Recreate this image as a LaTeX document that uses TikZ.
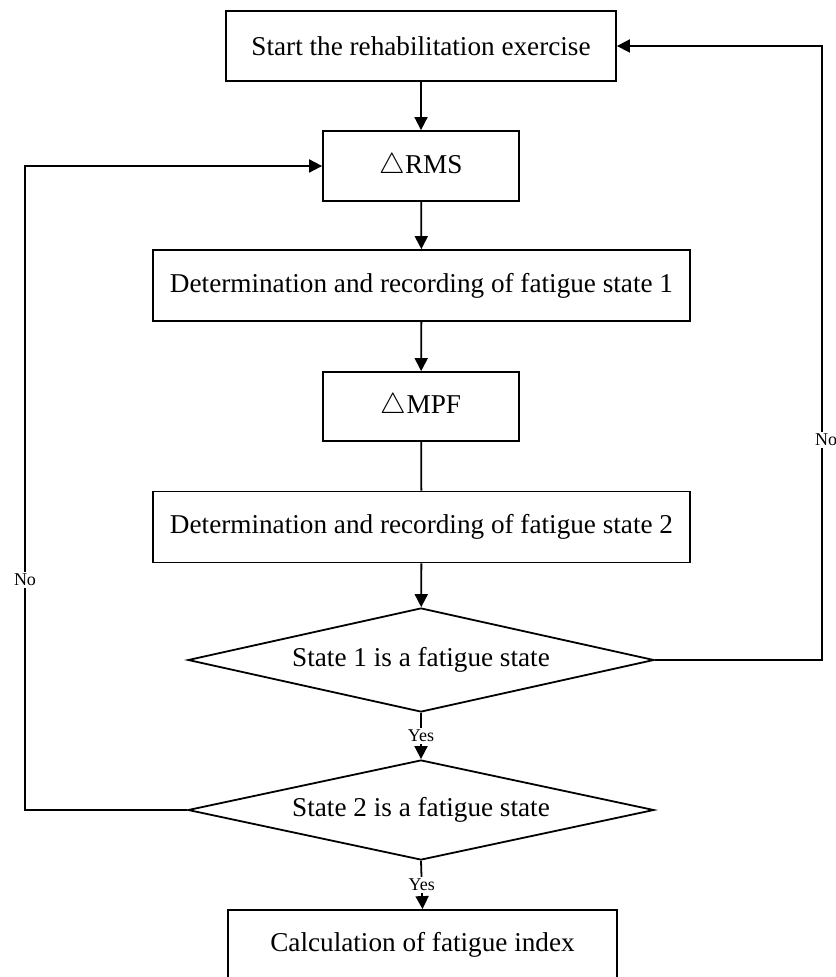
\documentclass[tikz,border=0pt]{standalone}
\usepackage{fontspec}
\setmainfont{Liberation Serif}
\usetikzlibrary{shapes.geometric,arrows.meta}
\begin{document}
\begin{tikzpicture}[x=0.5pt,y=-0.5pt,
  every path/.style={line width=0.9pt},
  box/.style={draw,line width=0.9pt,rectangle,inner sep=0pt,font=\fontsize{13.6}{16}\selectfont},
  dia/.style={draw,line width=0.9pt,diamond,aspect=4.5,inner sep=0pt,font=\fontsize{13.6}{16}\selectfont},
  lbl/.style={font=\fontsize{9}{10}\selectfont,fill=white,inner sep=1pt},
  arr/.style={-{Triangle[length=6.5pt,width=6.5pt]}}]
\useasboundingbox (0,0) rectangle (835,977);
\node[box,minimum width=195pt,minimum height=35pt] (b1) at (421,46) {Start the rehabilitation exercise};
\node[box,minimum width=98pt,minimum height=35pt] (rms) at (421,166) {$\triangle$RMS};
\node[box,minimum width=268.5pt,minimum height=35.5pt] (d1) at (421.5,285.5) {Determination and recording of fatigue state 1};
\node[box,minimum width=98pt,minimum height=34.5pt] (mpf) at (421,406.5) {$\triangle$MPF};
\node[box,minimum width=268.5pt,minimum height=35.5pt] (d2) at (421.5,527) {Determination and recording of fatigue state 2};
\node[dia,minimum width=233pt,minimum height=52pt] (q1) at (421,660) {State 1 is a fatigue state};
\node[dia,minimum width=233pt,minimum height=50pt] (q2) at (421,810) {State 2 is a fatigue state};
\node[box,minimum width=194.5pt,minimum height=35pt] (b7) at (422.5,945) {Calculation of fatigue index};
\coordinate (lc1) at (25,810);
\coordinate (lc2) at (25,166);
\coordinate (rc1) at (822,660);
\coordinate (rc2) at (822,46);
\draw[arr] (b1) -- (rms);
\draw[arr] (rms) -- (d1);
\draw[arr] (d1) -- (mpf);
\draw (mpf) -- (d2);
\draw[arr] (d2) -- (q1);
\draw[arr] (q1.south) -- node[lbl]{Yes} (q2.north);
\draw[arr] (q2.south) -- node[lbl]{Yes} (b7.north);
\draw[arr] (q2.west) -- (lc1) -- node[lbl,pos=0.357]{No} (lc2) -- (rms.west);
\draw[arr] (q1.east) -- (rc1) -- node[lbl,pos=0.358,xshift=2pt]{No} (rc2) -- (b1.east);
\end{tikzpicture}
\end{document}
